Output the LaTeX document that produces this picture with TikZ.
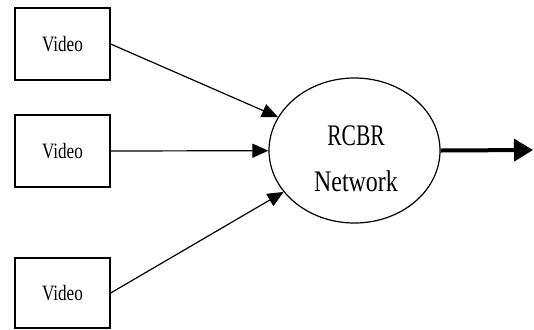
\documentclass[tikz,border=0pt]{standalone}
\usepackage{fontspec}
\setmainfont{Liberation Serif}
\usetikzlibrary{arrows.meta,shapes.geometric}
\begin{document}
\begin{tikzpicture}[x=1bp,y=-1bp,
  srcbox/.style={draw,line width=1.3bp,minimum width=95bp,minimum height=72bp,inner sep=0pt,
    font=\fontsize{22}{24}\selectfont},
  inarrow/.style={line width=1.2bp,-{Triangle[length=16bp,width=14bp]}},
  outarrow/.style={line width=4bp,-{Triangle[length=19bp,width=22bp]}}]
\useasboundingbox (0,0) rectangle (534,329);
\node[srcbox] (b1) at (62.5,44) {\scalebox{0.78}[1]{Video}};
\node[srcbox] (b2) at (62.5,151) {\scalebox{0.78}[1]{Video}};
\node[srcbox,minimum height=70bp] (b3) at (62.5,293) {\scalebox{0.78}[1]{Video}};
\node[draw,ellipse,line width=1.2bp,minimum width=171bp,minimum height=145bp,inner sep=0pt] (net) at (354.5,150.5) {};
\node[align=center,inner sep=0pt,font=\fontsize{30}{46}\selectfont] (lbl) at (356,159)
  {\scalebox{0.72}[1]{RCBR}\\\scalebox{0.8}[1]{Network}};
\coordinate (out) at (533,150);
\draw[inarrow] (b1.east) -- (net);
\draw[inarrow] (b2.east) -- (net);
\draw[inarrow] (b3.east) -- (net);
\draw[outarrow] (net.east) -- (out);
\end{tikzpicture}
\end{document}
